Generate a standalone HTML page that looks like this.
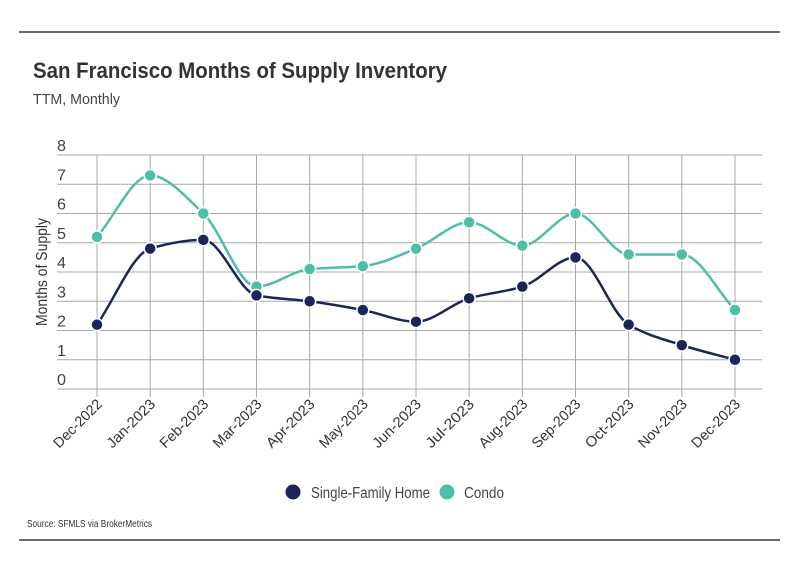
<!DOCTYPE html>
<html><head><meta charset="utf-8"><style>
html,body{margin:0;padding:0;background:#fff}
svg{display:block;font-family:"Liberation Sans",sans-serif}
</style></head><body>
<svg id="c" width="799" height="575">
<line x1="19" y1="32" x2="780" y2="32" stroke="#111" stroke-width="1.3"/>
<text x="33" y="78" font-size="22" font-weight="bold" fill="#333" textLength="414" lengthAdjust="spacingAndGlyphs">San Francisco Months of Supply Inventory</text>
<text x="33" y="104" font-size="15" fill="#444" textLength="87" lengthAdjust="spacingAndGlyphs">TTM, Monthly</text>
<g id="grid"></g>
<g id="lines"></g>
<text transform="translate(47,272) rotate(-90)" text-anchor="middle" font-size="16" fill="#333" textLength="108" lengthAdjust="spacingAndGlyphs">Months of Supply</text>
<g>
<g><circle cx="293" cy="492" r="7.5" fill="#1c2557"/><text x="311" y="498" font-size="16" fill="#444" textLength="119" lengthAdjust="spacingAndGlyphs">Single-Family Home</text></g>
<g><circle cx="447" cy="492" r="7.5" fill="#4dbfa9"/><text x="464" y="498" font-size="16" fill="#444" textLength="40" lengthAdjust="spacingAndGlyphs">Condo</text></g>
</g>
<text x="27" y="527" font-size="10" fill="#333" textLength="125" lengthAdjust="spacingAndGlyphs">Source:  SFMLS via BrokerMetrics</text>
<line x1="19" y1="540" x2="780" y2="540" stroke="#111" stroke-width="1.3"/>
</svg>
<script>
const categories=["Dec-2022","Jan-2023","Feb-2023","Mar-2023","Apr-2023","May-2023","Jun-2023","Jul-2023","Aug-2023","Sep-2023","Oct-2023","Nov-2023","Dec-2023"];
const sfhValues=[2.2,4.8,5.1,3.2,3.0,2.7,2.3,3.1,3.5,4.5,2.2,1.5,1.0];
const condoValues=[5.2,7.3,6.0,3.5,4.1,4.2,4.8,5.7,4.9,6.0,4.6,4.6,2.7];
const yTicks=[0,1,2,3,4,5,6,7,8];
const NS="http://www.w3.org/2000/svg";
const x0=97,x1=735,y0=389,y1=155,yMax=8;
function xs(i){return x0+(x1-x0)*i/(categories.length-1);}
function ys(v){return y0-(y0-y1)*v/yMax;}
function mk(tag,attrs,parent){const e=document.createElementNS(NS,tag);for(const k in attrs)e.setAttribute(k,attrs[k]);parent.appendChild(e);return e;}
const grid=document.getElementById('grid'),lines=document.getElementById('lines');
yTicks.forEach(t=>{
 const l=mk('line',{x1:57,x2:762,y1:ys(t),y2:ys(t),stroke:'#a8a8a8','stroke-width':1},grid);
 
 
 const tx=mk('text',{x:57,y:ys(t)-4,'font-size':16,fill:'#444',textLength:9,lengthAdjust:'spacingAndGlyphs'},grid);
 tx.textContent=t;
 
 
});
categories.forEach((c,i)=>{
 const l=mk('line',{x1:xs(i),x2:xs(i),y1:155,y2:397,stroke:'#a8a8a8','stroke-width':1},grid);
 
 
 const tx=mk('text',{transform:`translate(${xs(i)+6},${405}) rotate(-45)`,'text-anchor':'end','font-size':14.5,fill:'#333',textLength:62,lengthAdjust:'spacingAndGlyphs'},grid);
 tx.textContent=c;
 
 
});
function monotonePath(pts){
 const n=pts.length,d=[],m=[];
 for(let i=0;i<n-1;i++)d.push((pts[i+1][1]-pts[i][1])/(pts[i+1][0]-pts[i][0]));
 for(let i=0;i<n;i++){
  if(i===0)m.push(d[0]);else if(i===n-1)m.push(d[n-2]);
  else m.push(d[i-1]*d[i]<=0?0:(2/(1/d[i-1]+1/d[i])));
 }
 let s=`M${pts[0][0]},${pts[0][1]}`;
 for(let i=0;i<n-1;i++){const h=(pts[i+1][0]-pts[i][0])/3;
  s+=`C${pts[i][0]+h},${pts[i][1]+m[i]*h} ${pts[i+1][0]-h},${pts[i+1][1]-m[i+1]*h} ${pts[i+1][0]},${pts[i+1][1]}`;}
 return s;
}
function series(vals,color,name){
 const pts=vals.map((v,i)=>[xs(i),ys(v)]);
 const p=mk('path',{d:monotonePath(pts),fill:'none',stroke:color,'stroke-width':2.5},lines);
 
 
 pts.forEach(pt=>{
  const c=mk('circle',{cx:pt[0],cy:pt[1],r:6,fill:color,stroke:'#fff','stroke-width':1.5},lines);
  
  
 });
}
series(condoValues,'#4dbfa9','condo');
series(sfhValues,'#1c2557','single-family');
</script>
</body></html>
